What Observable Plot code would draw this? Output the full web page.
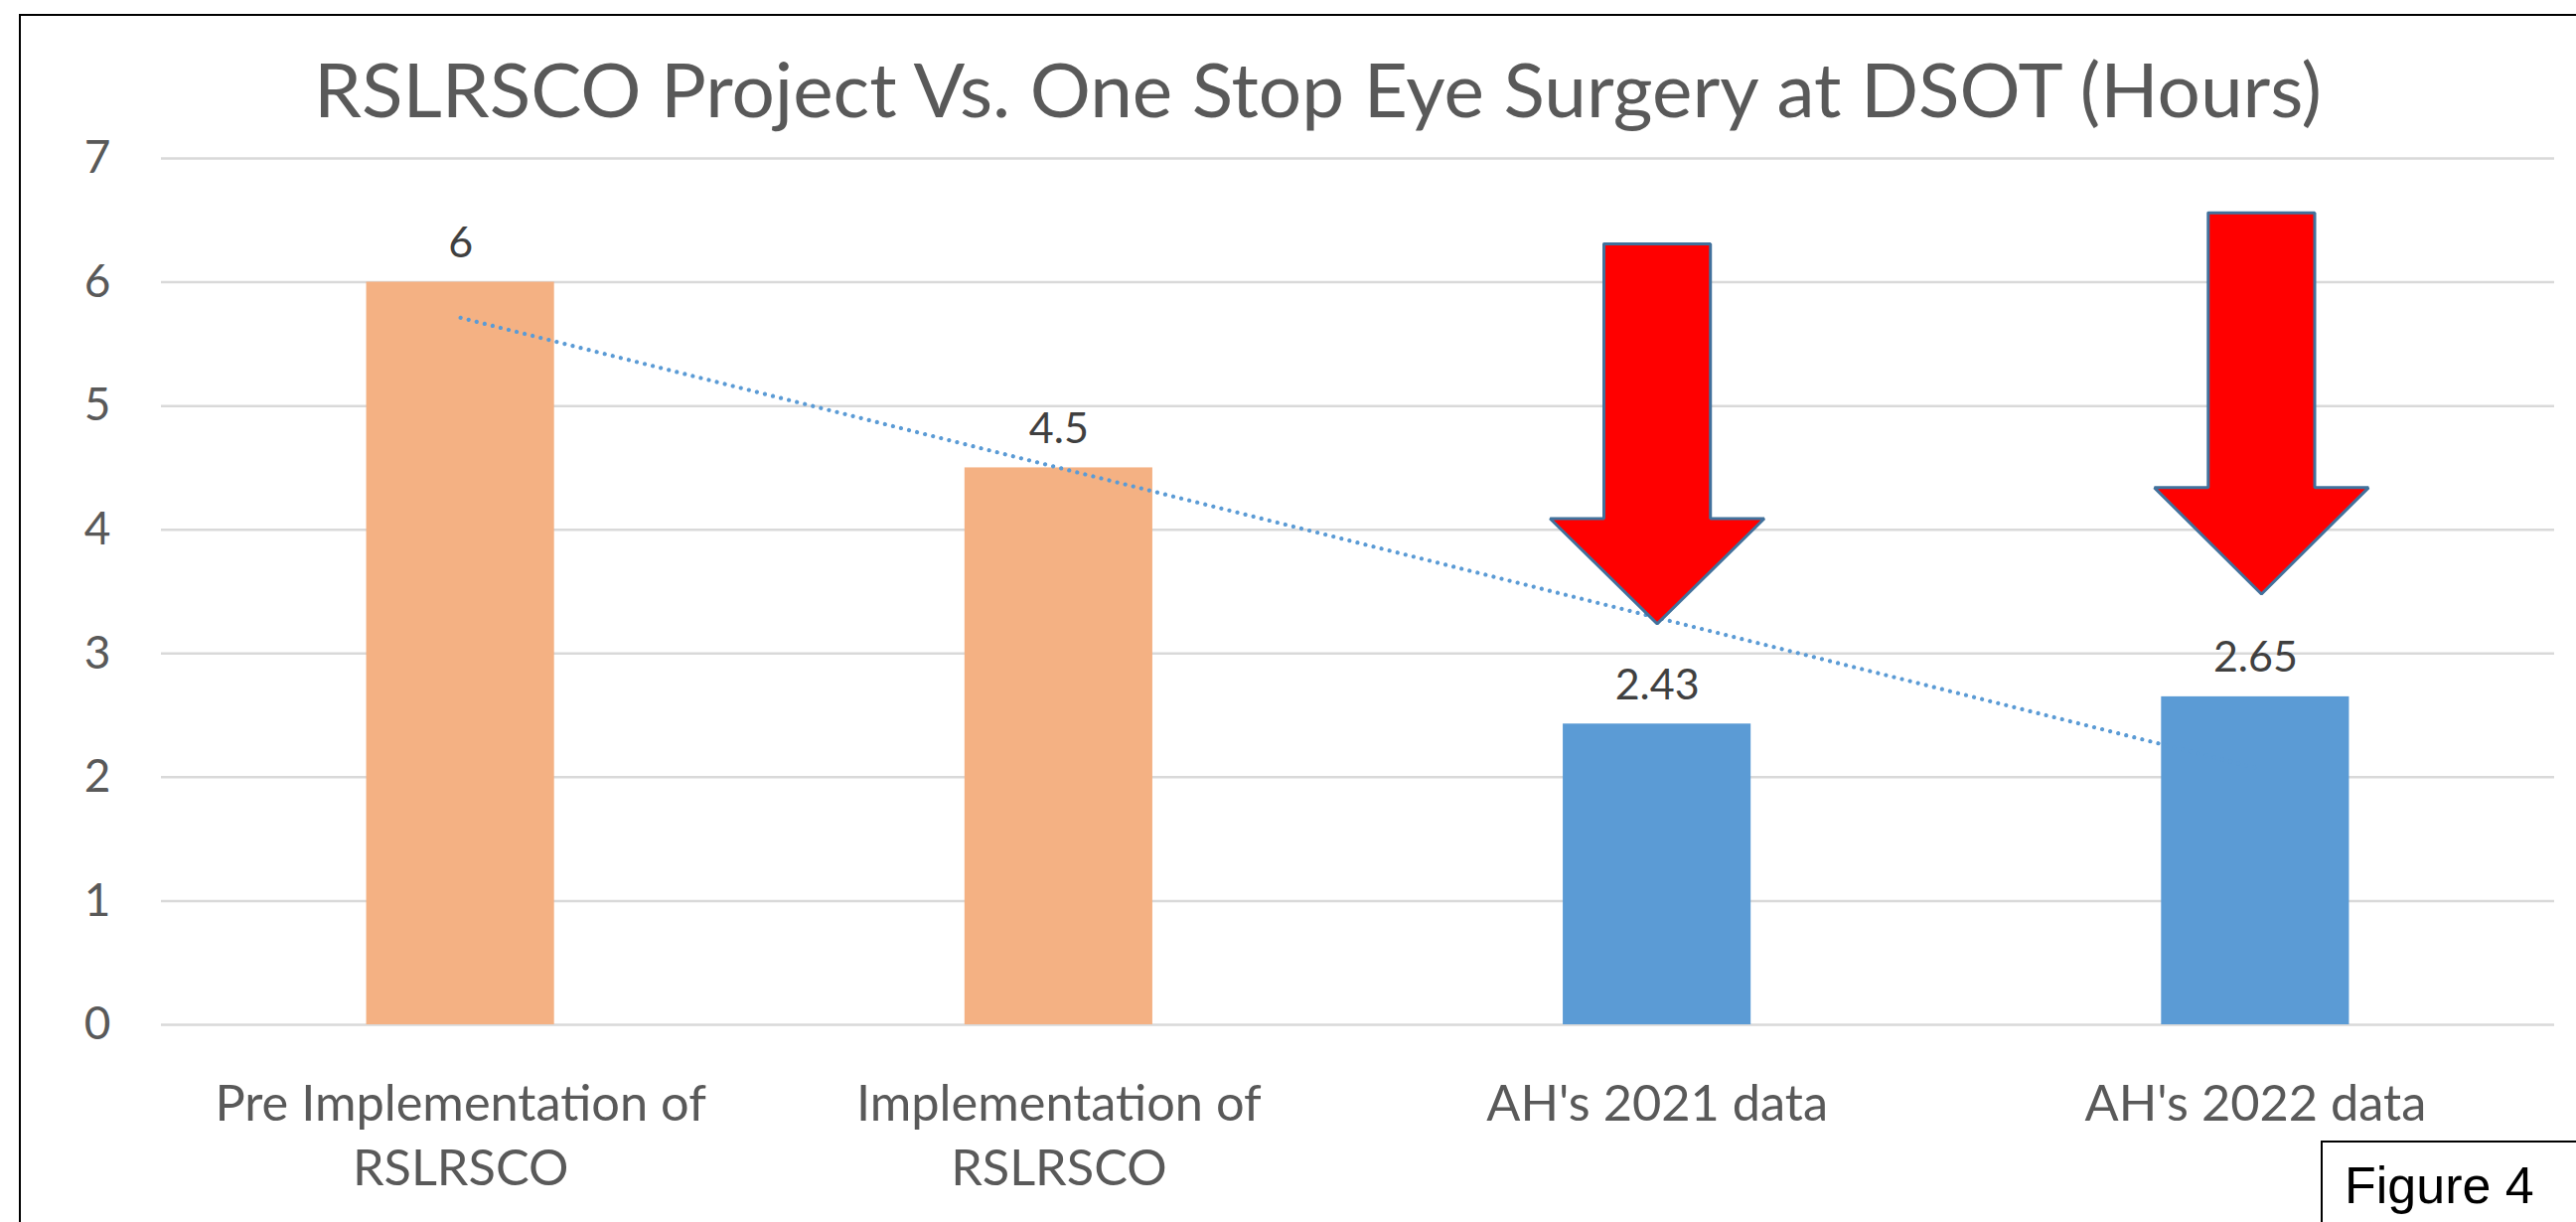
<!DOCTYPE html>
<html>
<head>
<meta charset="utf-8">
<script src="https://cdn.jsdelivr.net/npm/d3@7"></script>
<script src="https://cdn.jsdelivr.net/npm/@observablehq/plot@0.6"></script>
<style>
  html, body { margin: 0; padding: 0; background: #fff; overflow: hidden; }
  #wrap { position: relative; width: 2593px; height: 1230px; overflow: hidden; }
  #wrap svg { position: absolute; left: 0; top: 0; }
  #frame { position: absolute; left: 19px; top: 14px; width: 2700px; height: 1400px; border: 2.5px solid #000; box-sizing: border-box; pointer-events: none; }
  #fig { position: absolute; left: 2336px; top: 1148px; width: 400px; height: 200px; border: 2px solid #000; box-sizing: border-box; background: #fff;
         font-family: "Liberation Sans", Arial, sans-serif; font-size: 52px; line-height: 52px; padding-left: 22px; padding-top: 17px; color: #000; }
</style>
</head>
<body>
<div id="wrap"></div>
<script>
// ---- data ----
const categories = ["Pre Implementation of\nRSLRSCO", "Implementation of\nRSLRSCO", "AH's 2021 data", "AH's 2022 data"];
const hours = [6, 4.5, 2.43, 2.65];
const groups = ["RSLRSCO", "RSLRSCO", "AH", "AH"];
const yTicks = [0, 1, 2, 3, 4, 5, 6, 7];
const title = "RSLRSCO Project Vs. One Stop Eye Surgery at DSOT (Hours)";
// annotation arrows (data units): category position, top, neck, tip
const arrowAt = [3, 4.01];
const arrowTop = [6.31, 6.56];
const arrowNeck = [4.09, 4.34];
const arrowTip = [3.24, 3.48];

const rows = categories.map((c, k) => ({i: k + 1, category: c, hours: hours[k], group: groups[k]}));
const bw = 0.157; // half bar width in category units
const shaft = 0.089, head = 0.179;
const arrowPts = [];
arrowAt.forEach((c, k) => {
  const t = arrowTop[k], n = arrowNeck[k], p = arrowTip[k];
  [[c - shaft, t], [c + shaft, t], [c + shaft, n], [c + head, n], [c, p], [c - head, n], [c - shaft, n], [c - shaft, t]]
    .forEach(([x, y]) => arrowPts.push({k, x, y}));
});

const plot = Plot.plot({
  width: 2593,
  height: 1230,
  marginLeft: 162,
  marginRight: 22,
  marginTop: 159,
  marginBottom: 199,
  style: {fontFamily: "Lato, 'Noto Sans', sans-serif", background: "transparent"},
  x: {domain: [0.5, 4.5], axis: null},
  y: {domain: [0, 7], axis: null},
  color: {domain: ["RSLRSCO", "AH"], range: ["#F4B183", "#5B9BD5"]},
  marks: [
    Plot.ruleY(yTicks, {y: d => d, stroke: "#D9D9D9", strokeWidth: 2.5}),
    Plot.rectY(rows, {x1: d => d.i - bw, x2: d => d.i + bw, y1: 0, y2: "hours", fill: "group"}),
    Plot.linearRegressionY(rows, {x: "i", y: "hours", ci: 0, stroke: "#5B9BD5", strokeWidth: 4.2,
      strokeDasharray: "0.01 8.3", strokeLinecap: "round"}),
    Plot.line(arrowPts, {x: "x", y: "y", z: "k", fill: "#FF0000", stroke: "#41719C", strokeWidth: 3, strokeLinejoin: "miter", curve: "linear"}),
    Plot.text(rows, {x: "i", y: "hours", text: d => String(d.hours), lineAnchor: "bottom", dy: -25, fontSize: 43, fill: "#404040"}),
    Plot.text(rows, {x: "i", y: 0, text: "category", lineAnchor: "top", lineHeight: 1.29, dy: 50, fontSize: 50.5, fill: "#595959"}),
    Plot.text(yTicks, {y: d => d, frameAnchor: "left", text: d => String(d), textAnchor: "end", dx: -51, lineAnchor: "middle", fontSize: 46, fill: "#595959"}),
    Plot.text([title], {frameAnchor: "top", dx: -40.5, dy: -42, lineAnchor: "bottom", fontSize: 76.5, fill: "#595959"})
  ]
});
const wrap = document.getElementById("wrap");
wrap.appendChild(plot);
const frame = document.createElement("div"); frame.id = "frame"; wrap.appendChild(frame);
const fig = document.createElement("div"); fig.id = "fig"; fig.textContent = "Figure 4"; wrap.appendChild(fig);
</script>
</body>
</html>
